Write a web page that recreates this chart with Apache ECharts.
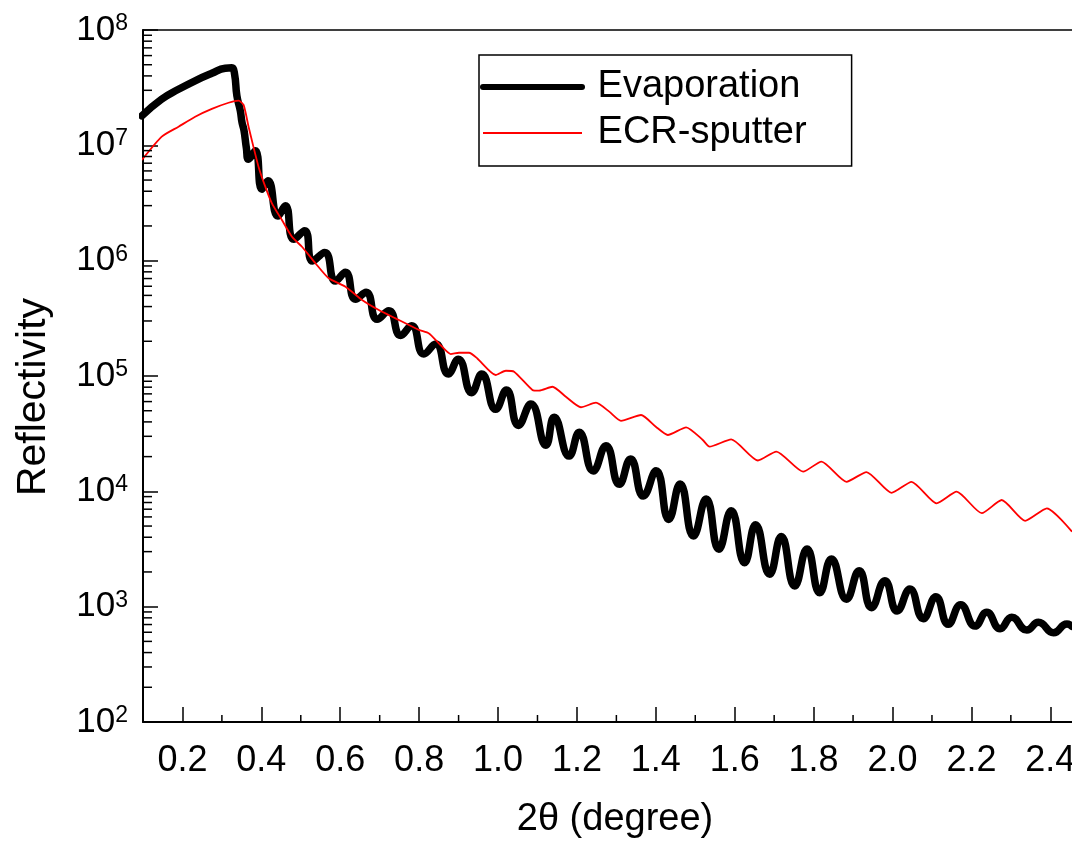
<!DOCTYPE html>
<html>
<head>
<meta charset="utf-8">
<script src="https://cdn.jsdelivr.net/npm/echarts@6/dist/echarts.min.js"></script>
<style>
html,body{margin:0;padding:0;background:#fff;}
#chart{width:1072px;height:843px;}
</style>
</head>
<body>
<div id="chart"></div>
<script>
// ---- data ----
const evapX = [0.097,0.147,0.190,0.232,0.2745,0.3085,0.325,0.332,0.338,0.3466,0.351,0.356,0.362,0.3676,0.3846,0.4015,0.4167,0.442,0.4609,0.482,0.5099,0.530,0.5607,0.5878,0.6132,0.6386,0.6656,0.6936,0.7232,0.753,0.7809,0.812,0.8419,0.8739,0.8993,0.9333,0.9587,0.9942,1.0213,1.0517,1.0832,1.1213,1.1423,1.1804,1.2058,1.2414,1.2737,1.3074,1.336,1.3684,1.4007,1.4327,1.4616,1.4954,1.5277,1.5597,1.5911,1.625,1.6529,1.6885,1.7181,1.7521,1.7833,1.8154,1.8452,1.8833,1.9153,1.9468,1.9806,2.0118,2.044,2.0779,2.110,2.1413,2.1728,2.2092,2.2389,2.2727,2.3023,2.3405,2.370,2.4081,2.442,2.455];
const evapY = [1.80e7,2.51e7,3.06e7,3.63e7,4.21e7,4.66e7,4.70e7,4.17e7,2.69e7,2.0e7,1.58e7,1.35e7,9.5e6,7.57e6,8.97e6,4.16e6,4.93e6,2.44e6,3.0e6,1.53e6,1.82e6,9.93e5,1.18e6,6.67e5,7.93e5,4.62e5,5.32e5,3.10e5,3.68e5,2.25e5,2.73e5,1.55e5,1.89e5,1.04e5,1.40e5,7.16e4,1.04e5,5.14e4,7.57e4,3.73e4,5.71e4,2.51e4,4.39e4,2.02e4,3.25e4,1.50e4,2.49e4,1.15e4,1.91e4,9.10e3,1.51e4,5.71e3,1.16e4,4.10e3,8.57e3,3.14e3,6.79e3,2.40e3,5.14e3,1.91e3,4.05e3,1.51e3,3.16e3,1.32e3,2.59e3,1.16e3,2.05e3,980,1.68e3,916,1.42e3,787,1.22e3,703,1.04e3,679,893,644,809,627,731,594,708,676];

const ecrX = [0.097,0.1475,0.19,0.2322,0.2745,0.3168,0.3422,0.355,0.3676,0.380,0.393,0.41,0.4268,0.4522,0.4776,0.503,0.537,0.5708,0.6133,0.6554,0.6978,0.7402,0.7994,0.825,0.85,0.88,0.901,0.9264,0.9475,0.994,1.0197,1.0407,1.0872,1.104,1.138,1.172,1.2101,1.2483,1.282,1.3117,1.3626,1.40,1.4303,1.4769,1.519,1.5361,1.5911,1.6587,1.7055,1.7733,1.8198,1.8833,1.934,1.9975,2.0483,2.1118,2.1626,2.2262,2.2769,2.3362,2.3912,2.455];
const ecrY = [7.46e6,1.19e7,1.45e7,1.77e7,2.07e7,2.34e7,2.44e7,2.24e7,1.45e7,9.7e6,6.5e6,4.38e6,3.14e6,2.25e6,1.61e6,1.32e6,9.5e5,7.03e5,5.94e5,4.56e5,3.73e5,3.16e5,2.51e5,2.34e5,1.92e5,1.55e5,1.59e5,1.59e5,1.42e5,1.02e5,1.11e5,1.09e5,7.57e4,7.46e4,8.07e4,6.61e4,5.36e4,5.87e4,4.91e4,4.09e4,4.59e4,3.63e4,3.08e4,3.59e4,2.79e4,2.44e4,2.82e4,1.85e4,2.21e4,1.48e4,1.81e4,1.21e4,1.47e4,9.7e3,1.21e4,7.87e3,9.93e3,6.46e3,8.41e3,5.55e3,7.13e3,4.47e3];

const seriesNames = ['Evaporation', 'ECR-sputter'];
const xTicks = [0.2,0.4,0.6,0.8,1.0,1.2,1.4,1.6,1.8,2.0,2.2,2.4];
const xMinorTicks = [0.3,0.5,0.7,0.9,1.1,1.3,1.5,1.7,1.9,2.1,2.3];
const yMinorTicks = [200,300,400,500,600,700,800,900,
  2000,3000,4000,5000,6000,7000,8000,9000,
  2e4,3e4,4e4,5e4,6e4,7e4,8e4,9e4,
  2e5,3e5,4e5,5e5,6e5,7e5,8e5,9e5,
  2e6,3e6,4e6,5e6,6e6,7e6,8e6,9e6,
  2e7,3e7,4e7,5e7,6e7,7e7,8e7,9e7];
const xMin = 0.1, xMax = 2.455, yMin = 1e2, yMax = 1e8;
const xTitle = '2\u03b8 (degree)';
const yTitle = 'Reflectivity';

const FONT = "'Liberation Sans', Arial, Helvetica, sans-serif";
const zip = (a, b) => a.map((v, i) => [v, b[i]]);

const chart = echarts.init(document.getElementById('chart'), null, {renderer: 'canvas'});

const tickLine = (dx, dy) => function (params, api) {
  const p = api.coord([api.value(0), api.value(1)]);
  return {
    type: 'line',
    shape: {x1: p[0], y1: p[1], x2: p[0] + dx, y2: p[1] + dy},
    style: {stroke: '#000', lineWidth: 1.5}
  };
};

const option = {
  animation: false,
  backgroundColor: '#fff',
  grid: {left: 143, right: 0, top: 30, bottom: 121, containLabel: false, outerBoundsMode: 'none'},
  legend: {
    show: true,
    orient: 'vertical',
    left: 479, top: 55,
    padding: [10, 45, 11, 1],
    itemGap: 2,
    itemWidth: 99, itemHeight: 14,
    borderColor: '#000', borderWidth: 1.5,
    backgroundColor: '#fff',
    textStyle: {fontFamily: FONT, fontSize: 38, lineHeight: 38, padding: [6, 0, 0, 0], color: '#000'},
    formatter: name => ' ' + name,
    data: [
      {name: seriesNames[0], lineStyle: {width: 6, color: '#000'}, itemStyle: {opacity: 0, borderWidth: 0}},
      {name: seriesNames[1], lineStyle: {width: 2, color: '#ff0000'}, itemStyle: {opacity: 0, borderWidth: 0}}
    ]
  },
  xAxis: [{
    type: 'value', position: 'bottom', min: xMin, max: xMax,
    axisLine: {show: true, onZero: false, lineStyle: {color: '#000', width: 2}},
    axisTick: {show: true, inside: true, length: 15, lineStyle: {color: '#000', width: 1.5}, customValues: xTicks},
    axisLabel: {show: true, customValues: xTicks, margin: 21, fontFamily: FONT, fontSize: 36, color: '#000',
      formatter: v => v.toFixed(1)},
    splitLine: {show: false}
  }, {
    type: 'value', position: 'top', min: xMin, max: xMax,
    axisLine: {show: true, onZero: false, lineStyle: {color: '#000', width: 1.5}},
    axisTick: {show: false}, axisLabel: {show: false}, splitLine: {show: false}
  }],
  yAxis: [{
    type: 'log', logBase: 10, min: yMin, max: yMax, interval: 1,
    axisLine: {show: true, onZero: false, lineStyle: {color: '#000', width: 2}},
    axisTick: {show: true, inside: true, length: 15, lineStyle: {color: '#000', width: 1.5}},
    axisLabel: {
      margin: 15,
      formatter: v => '{b|10}{s|' + Math.round(Math.log10(v)) + '}',
      rich: {
        b: {fontFamily: FONT, fontSize: 35, color: '#000', lineHeight: 36},
        s: {fontFamily: FONT, fontSize: 23, color: '#000', verticalAlign: 'top', lineHeight: 23}
      }
    },
    splitLine: {show: false}
  }],
  graphic: [
    {type: 'text', x: 34, y: 397, rotation: Math.PI / 2,
      style: {text: yTitle, fontFamily: FONT, fontSize: 41, fill: '#000', textAlign: 'center', textVerticalAlign: 'middle'}},
    {type: 'text', x: 615, y: 820,
      style: {text: xTitle, fontFamily: FONT, fontSize: 38, fill: '#000', textAlign: 'center', textVerticalAlign: 'middle'}}
  ],
  series: [
    {
      name: seriesNames[1], type: 'line', xAxisIndex: 0, yAxisIndex: 0,
      data: zip(ecrX, ecrY), showSymbol: false, symbol: 'none', smooth: 0.2,
      lineStyle: {color: '#ff0000', width: 1.8}, itemStyle: {color: '#ff0000'}, z: 3
    },
    {
      name: seriesNames[0], type: 'line', xAxisIndex: 0, yAxisIndex: 0,
      data: zip(evapX, evapY), showSymbol: false, symbol: 'none', smooth: 0.5,
      lineStyle: {color: '#000', width: 7.5, cap: 'round', join: 'round'}, itemStyle: {color: '#000'}, z: 2
    },
    {
      type: 'custom', name: 'yMinor', silent: true, xAxisIndex: 0, yAxisIndex: 0,
      data: yMinorTicks.map(v => [xMin, v]), renderItem: tickLine(9, 0), z: 5
    },
    {
      type: 'custom', name: 'xMinor', silent: true, xAxisIndex: 0, yAxisIndex: 0,
      data: xMinorTicks.map(v => [v, yMin]), renderItem: tickLine(0, -7), z: 5
    }
  ]
};
chart.setOption(option);
</script>
</body>
</html>
